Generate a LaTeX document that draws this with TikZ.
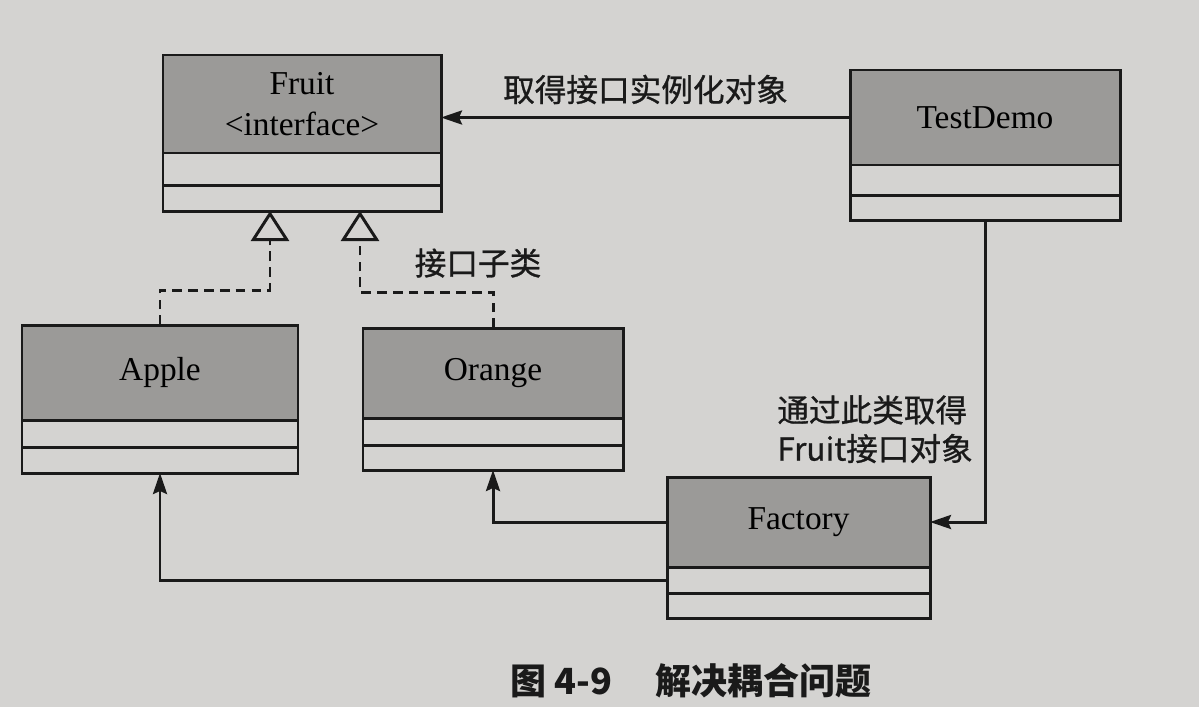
\documentclass[tikz,border=0pt]{standalone}
\usepackage{fontspec}
\setmainfont{Liberation Serif}
\newfontfamily\cjk[BoldFont=Noto Sans CJK SC, BoldFeatures={FakeBold=0.9}]{Noto Sans CJK SC}
\newfontfamily\cjkcap{Noto Sans CJK SC}
\usetikzlibrary{arrows.meta, positioning, calc}
\definecolor{cpaper}{HTML}{D4D3D1}
\definecolor{chead}{HTML}{9B9A98}
\definecolor{cink}{HTML}{1A1A1A}
\tikzset{
  every picture/.style={line width=1.7pt, x=0.02cm, y=-0.02cm},
  classhead/.style={draw=cink, fill=chead, anchor=north west, outer sep=0pt, inner sep=0pt,
                    align=center, font=\fontsize{19}{23}\selectfont},
  classpart/.style={draw=cink, fill=none, outer sep=0pt, inner sep=0pt},
  arrow/.style={-{Stealth[length=4.2mm, width=2.8mm, inset=0.6mm]}, draw=cink},
  realize/.style={dash pattern=on 5.5pt off 3.5pt, draw=cink,
                  -{Triangle[open, length=6mm, width=7.6mm, fill=cpaper]}},
  note/.style={font=\cjk\bfseries\fontsize{18}{22}\selectfont, text=cink},
}
\begin{document}
\begin{tikzpicture}
  \fill[cpaper] (0,0) rectangle (1199,707);
  % classes: name/left/top/width/head height/part 1/part 2
  \foreach \n/\x/\y/\w/\h/\pa/\pb/\t in {
      fr/163/55/278/98/32/26/{Fruit\\<interface>},
      td/850/70/270/95/30/25/TestDemo,
      ap/22/325/276/95/27/26/Apple,
      or/363/328/260/90/27/25/Orange,
      fac/667/477/263/90/26/25/Factory} {
    \node[classhead, minimum width=\w*0.02cm, minimum height=\h*0.02cm] (\n H) at (\x,\y) {\t};
    \node[classpart, minimum width=\w*0.02cm, minimum height=\pa*0.02cm, below=0pt of \n H] (\n P1) {};
    \node[classpart, minimum width=\w*0.02cm, minimum height=\pb*0.02cm, below=0pt of \n P1] (\n P2) {};
  }
  % associations
  \draw[arrow] (tdH.west) -- (tdH.west -| frH.east);
  \node[note, anchor=south] (lget) at ($(tdH.west)!0.5!(tdH.west -| frH.east)+(0,-6)$) {取得接口实例化对象};
  \draw[arrow] (tdP2.south) |- (facH.east);
  \node[note, anchor=north west, align=left] (lfac) at (770,388) {通过此类取得\\Fruit接口对象};
  \draw[arrow] (facH.west) -| (orP2.south);
  \draw[arrow] (facP1.west) -| (apP2.south);
  % realization
  \coordinate (tipA) at ($(frP2.south)+(-32,0)$);
  \coordinate (tipO) at ($(frP2.south)+(58,0)$);
  \draw[realize] (apH.north) -- ++(0,-35) -| (tipA);
  \draw[realize] (orH.north) -- ++(0,-36) -| (tipO);
  \node[note] (lsub) at (478,263) {接口子类};
  \node[font=\cjkcap\bfseries\fontsize{20.5}{24}\selectfont, text=cink] (cap) at (691,681) {图 4-9\hspace{1.2em}解决耦合问题};
\end{tikzpicture}
\end{document}
